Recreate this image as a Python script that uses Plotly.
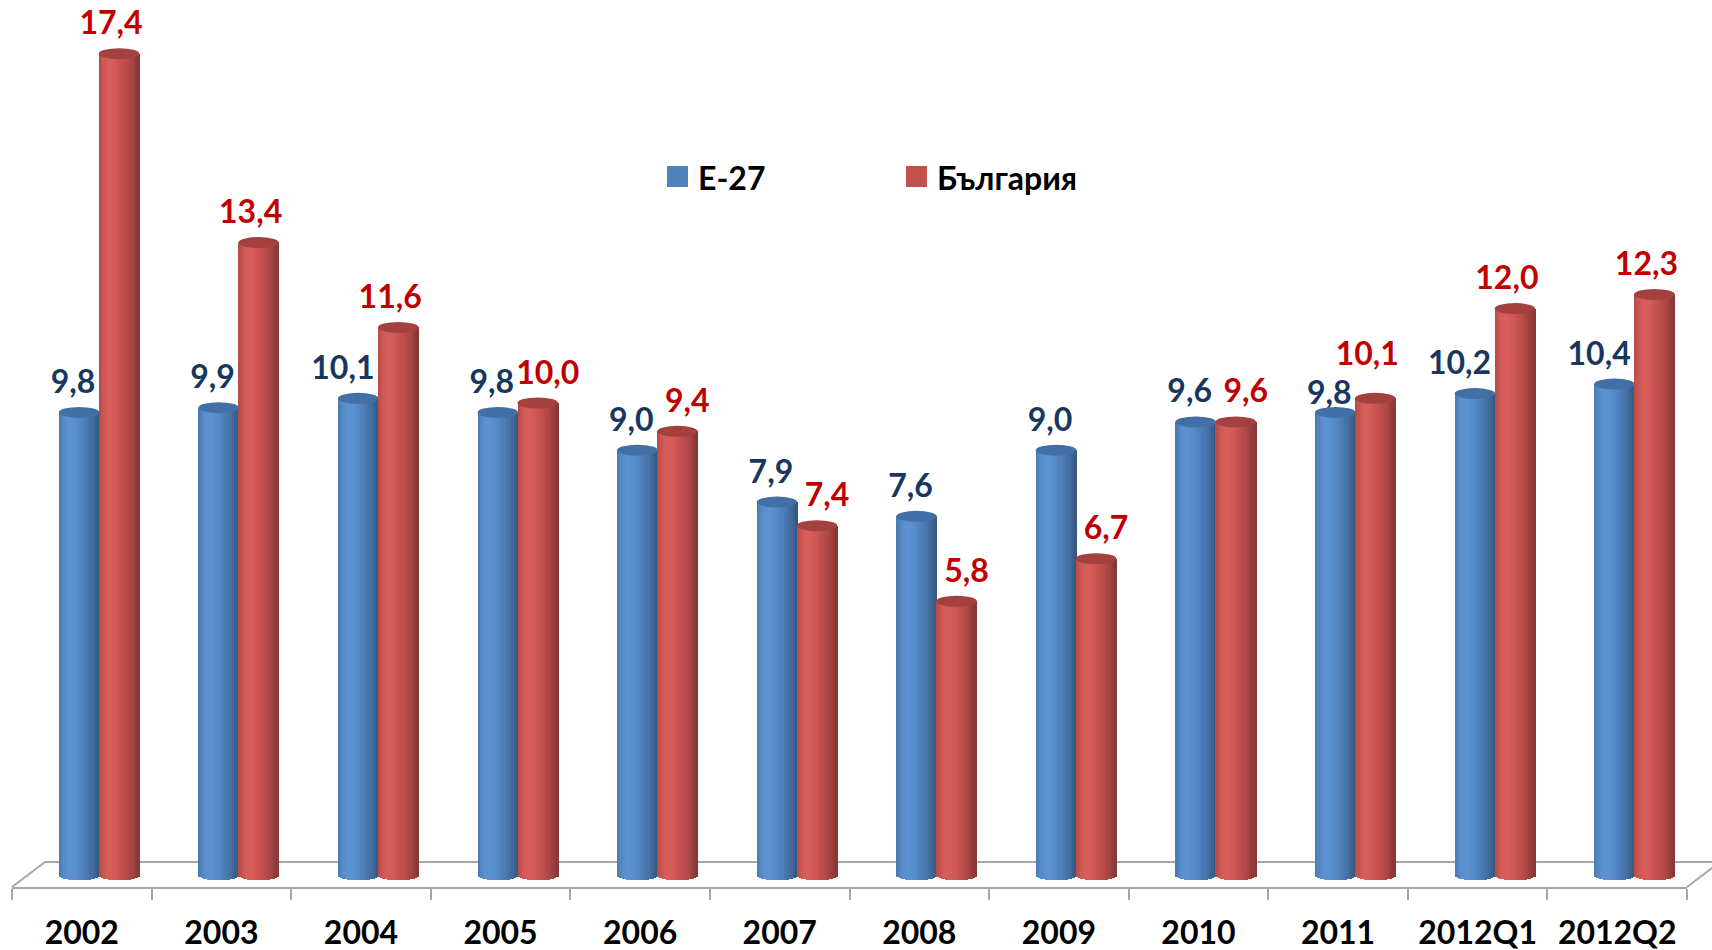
import numpy as np
import plotly.graph_objects as go

# ---------------- data ----------------
categories = ['2002', '2003', '2004', '2005', '2006', '2007', '2008', '2009',
              '2010', '2011', '2012Q1', '2012Q2']
eu27 = [9.8, 9.9, 10.1, 9.8, 9.0, 7.9, 7.6, 9.0, 9.6, 9.8, 10.2, 10.4]
bulgaria = [17.4, 13.4, 11.6, 10.0, 9.4, 7.4, 5.8, 6.7, 9.6, 10.1, 12.0, 12.3]
series_names = ['Е-27', 'България']

# ---------------- geometry / style ----------------
W, H = 1712, 950
ML, MR, MT, MB = 12, 25, 0, 63
PLOT_W = W - ML - MR
PLOT_H = H - MT - MB
PXC = PLOT_W / len(categories)          # pixels per category
PXU = 47.2                               # pixels per value unit
BASE_PX = 875 - MT                       # y=0 position from top of plot
Y_LO = -(PLOT_H - BASE_PX) / PXU
Y_HI = BASE_PX / PXU
RY = 5.5 / PXU                           # ellipse half-height in data units
BAR_W = 40.5
N_STRIPES = 18

styles = [
    dict(rgb=(79, 129, 189), cap='#426FA6', left=-23.0, label='#17375E'),
    dict(rgb=(194, 80, 77), cap='#A4403E', left=17.0, label='#C00000'),
]
FONT = 'Lato, "Noto Sans", "DejaVu Sans", sans-serif'


def shade(rgb, t):
    theta = np.arcsin(2 * t - 1)
    phi = -0.45
    diff = max(0.0, np.cos(theta - phi))
    f = 0.70 + 0.36 * diff
    spec = 0.035 * max(0.0, np.cos(theta - phi)) ** 8
    c = [min(255, v * f + 255 * spec) for v in rgb]
    return 'rgb(%d,%d,%d)' % tuple(int(round(v)) for v in c)


x_idx = np.arange(len(categories))
fig = go.Figure()
shapes = []

for vals, st in zip([eu27, bulgaria], styles):
    vals = np.array(vals)
    for k in range(N_STRIPES):
        t0 = k / N_STRIPES
        tc = (k + 0.5) / N_STRIPES
        off_px = st['left'] + t0 * BAR_W
        w_px = BAR_W / N_STRIPES + 0.6
        base = -RY * np.sqrt(max(0.0, 1 - (2 * tc - 1) ** 2))
        fig.add_trace(go.Bar(
            x=x_idx, y=vals - base, base=base,
            offset=off_px / PXC, width=w_px / PXC,
            marker=dict(color=shade(st['rgb'], tc), line=dict(width=0)),
            showlegend=False, hoverinfo='skip'))
    # top caps
    for i, v in enumerate(vals):
        shapes.append(dict(
            type='circle', xref='x', yref='y', layer='above',
            x0=i + st['left'] / PXC, x1=i + (st['left'] + BAR_W) / PXC,
            y0=v - RY, y1=v + RY,
            fillcolor=st['cap'], line=dict(width=0)))

# value labels
lab_pad = 6 / PXU
blue, red = styles
eu_arr, bg_arr = np.array(eu27), np.array(bulgaria)
# labels that would collide with the neighbouring one are pulled apart vertically
collide = (bg_arr > 10.0) & (np.abs(bg_arr - eu_arr) < 0.6)
blue_drop = np.where(collide, 11.0, 0.0)
red_lift = np.where(collide, 14.0, 0.0)
fig.add_trace(go.Scatter(
    x=x_idx + (blue['left'] + BAR_W - 4) / PXC,
    y=eu_arr + RY + lab_pad - blue_drop / PXU,
    mode='text', text=[f'{v:.1f}'.replace('.', ',') for v in eu27],
    textposition='top left',
    textfont=dict(family=FONT, size=32, color=blue['label'], weight='bold'),
    showlegend=False, hoverinfo='skip'))
# red labels: lower bars' labels sit to the right, taller ones to the left
red_nudge = np.where(bg_arr <= 10.0, 10.0, -8.0)
fig.add_trace(go.Scatter(
    x=x_idx + (red['left'] + BAR_W / 2 + red_nudge) / PXC,
    y=bg_arr + RY + lab_pad + red_lift / PXU,
    mode='text', text=[f'{v:.1f}'.replace('.', ',') for v in bulgaria],
    textposition='top center',
    textfont=dict(family=FONT, size=32, color=red['label'], weight='bold'),
    showlegend=False, hoverinfo='skip'))


def px_x(px):
    return (px - ML) / PLOT_W


def px_y(py):
    return (H - MB - py) / PLOT_H


# 3D floor
floor_col = '#A6A6A6'
dx, dy = 33, 25
front_y = H - MB
for seg in [((ML, front_y), (ML + dx, front_y - dy)),
            ((ML + dx, front_y - dy), (W + 60, front_y - dy)),
            ((W - MR, front_y), (W - MR + dx, front_y - dy))]:
    (xa, ya), (xb, yb) = seg
    shapes.append(dict(type='line', xref='paper', yref='paper', layer='below',
                       x0=px_x(xa), y0=px_y(ya), x1=px_x(xb), y1=px_y(yb),
                       line=dict(color=floor_col, width=2)))

# manual legend
leg_items = [(series_names[0], styles[0], 667), (series_names[1], styles[1], 906)]
annotations = []
for name, st, lx in leg_items:
    shapes.append(dict(type='rect', xref='paper', yref='paper', layer='above',
                       x0=px_x(lx), x1=px_x(lx + 21), y0=px_y(187), y1=px_y(166),
                       fillcolor='rgb(%d,%d,%d)' % st['rgb'], line=dict(width=0)))
    annotations.append(dict(xref='paper', yref='paper', x=px_x(lx + 29), y=px_y(177),
                            xanchor='left', yanchor='middle', showarrow=False,
                            text=name,
                            font=dict(family=FONT, size=32, color='black', weight='bold')))

fig.update_layout(
    width=W, height=H,
    margin=dict(l=ML, r=MR, t=MT, b=MB, pad=0),
    paper_bgcolor='white', plot_bgcolor='white',
    barmode='overlay', bargap=0,
    showlegend=False,
    shapes=shapes, annotations=annotations,
    xaxis=dict(range=[-0.5, len(categories) - 0.5], tickvals=list(x_idx),
               ticktext=categories, ticks='', showgrid=False, zeroline=False,
               showline=True, linecolor=floor_col, linewidth=2,
               automargin=False, ticklabelstandoff=17,
               tickfont=dict(family=FONT, size=32, color='black', weight='bold'),
               minor=dict(tickvals=[i - 0.5 for i in range(len(categories) + 1)],
                          ticks='outside', ticklen=11, tickwidth=2,
                          tickcolor=floor_col, showgrid=False)),
    yaxis=dict(range=[Y_LO, Y_HI], visible=False, showgrid=False, zeroline=False,
               automargin=False),
)

fig.write_html('out.html', config={'displayModeBar': False},
               post_script="document.body.style.margin='0';document.body.style.overflow='hidden';")
